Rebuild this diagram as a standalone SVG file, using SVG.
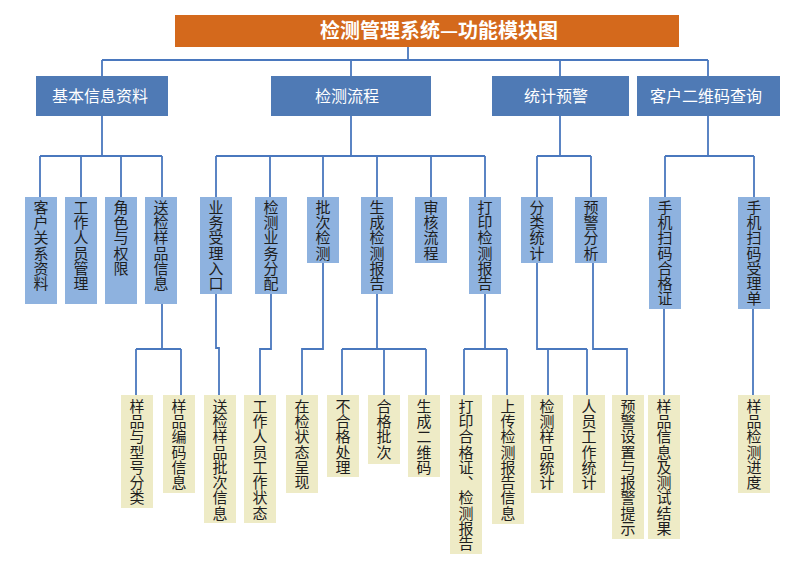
<svg xmlns="http://www.w3.org/2000/svg" width="800" height="571" viewBox="0 0 800 571">
<style>
.title{fill:#D4691C}
.l1{fill:#4F7AB5}
.l2{fill:#8EB2DF}
.l3{fill:#EEEBC6}
.tt{font-family:"Noto Sans CJK SC","Liberation Sans",sans-serif;font-size:20px;font-weight:bold;fill:#fff;text-anchor:middle}
.t1{font-family:"Noto Sans CJK SC","Liberation Sans",sans-serif;font-size:16px;fill:#fff;text-anchor:middle}
.tv{font-family:"Noto Sans CJK SC","Liberation Sans",sans-serif;font-size:15px;fill:#1e1e1e;writing-mode:vertical-rl;text-anchor:start;letter-spacing:0.3px}
.conn path{fill:none;stroke:#4A78BE;stroke-width:1.8}
</style>
<rect width="800" height="571" fill="#fff"/>
<g class="conn" id="connectors">
<path d="M408 47V60M102 60H708M102 60V76M351 60V76M560 60V76M708 60V76"/>
<path d="M102 116V156M40 156H162M40 156V197M81 156V197M121 156V197M162 156V197"/>
<path d="M351 116V156M216 156H485M216 156V197M270 156V197M323 156V197M377 156V197M431 156V197M485 156V197"/>
<path d="M560 116V156M537 156H591M537 156V197M591 156V197"/>
<path d="M708 116V156M665 156H754M665 156V197M754 156V197"/>
<path d="M162 304V349M136 349H181M136 349V395M181 349V395"/>
<path d="M216 294V348H219V395"/>
<path d="M271 294V349H260V395"/>
<path d="M323 263V349H302V395"/>
<path d="M377 294V349M342 349H426M342 349V395M384 349V395M426 349V395"/>
<path d="M485 294V349M464 349H507M464 349V395M507 349V395"/>
<path d="M537 263V349H587M548 349V395M587 349V395"/>
<path d="M593 263V349H627V395"/>
<path d="M664 309V395"/>
<path d="M753 309V395"/>
</g>
<g id="n-title"><rect class="title" x="175" y="15" width="504" height="32"/><text class="tt" x="439" y="38">检测管理系统—功能模块图</text></g>
<g id="n-jbxx"><rect class="l1" x="36" y="76" width="132" height="40"/><text class="t1" x="100" y="102">基本信息资料</text></g>
<g id="n-jclc"><rect class="l1" x="271" y="76" width="160" height="40"/><text class="t1" x="347" y="102">检测流程</text></g>
<g id="n-tjyj"><rect class="l1" x="492" y="76" width="137" height="40"/><text class="t1" x="556" y="102">统计预警</text></g>
<g id="n-khewm"><rect class="l1" x="637" y="76" width="143" height="40"/><text class="t1" x="706" y="102">客户二维码查询</text></g>

<g id="n-khgx"><rect class="l2" x="25" y="197" width="32" height="107"/><text class="tv" x="41" y="199.5">客户关系资料</text></g>
<g id="n-gzry"><rect class="l2" x="65" y="197" width="32" height="107"/><text class="tv" x="81" y="199.5">工作人员管理</text></g>
<g id="n-jsqx"><rect class="l2" x="105" y="197" width="32" height="107"/><text class="tv" x="121" y="199.5">角色与权限</text></g>
<g id="n-sjyp"><rect class="l2" x="145" y="197" width="32" height="107"/><text class="tv" x="161" y="199.5">送检样品信息</text></g>
<g id="n-ywsl"><rect class="l2" x="200" y="197" width="32" height="97"/><text class="tv" x="216" y="199.5">业务受理入口</text></g>
<g id="n-jcyw"><rect class="l2" x="255" y="197" width="32" height="97"/><text class="tv" x="271" y="199.5">检测业务分配</text></g>
<g id="n-pcjc"><rect class="l2" x="307" y="197" width="32" height="66"/><text class="tv" x="323" y="199.5">批次检测</text></g>
<g id="n-scbg"><rect class="l2" x="361" y="197" width="32" height="97"/><text class="tv" x="377" y="199.5">生成检测报告</text></g>
<g id="n-shlc"><rect class="l2" x="415" y="197" width="32" height="66"/><text class="tv" x="431" y="199.5">审核流程</text></g>
<g id="n-dybg"><rect class="l2" x="469" y="197" width="32" height="97"/><text class="tv" x="485" y="199.5">打印检测报告</text></g>
<g id="n-fltj"><rect class="l2" x="521" y="197" width="32" height="66"/><text class="tv" x="537" y="199.5">分类统计</text></g>
<g id="n-yjfx"><rect class="l2" x="575" y="197" width="32" height="66"/><text class="tv" x="591" y="199.5">预警分析</text></g>
<g id="n-smhgz"><rect class="l2" x="649" y="197" width="32" height="112"/><text class="tv" x="665" y="199.5">手机扫码合格证</text></g>
<g id="n-smsld"><rect class="l2" x="738" y="197" width="32" height="112"/><text class="tv" x="754" y="199.5">手机扫码受理单</text></g>

<g id="n-ypxh"><rect class="l3" x="121" y="395" width="32" height="113"/><text class="tv" x="137" y="398.5">样品与型号分类</text></g>
<g id="n-ypbm"><rect class="l3" x="163" y="395" width="32" height="98"/><text class="tv" x="179" y="398.5">样品编码信息</text></g>
<g id="n-sjpc"><rect class="l3" x="204" y="395" width="32" height="128"/><text class="tv" x="220" y="398.5">送检样品批次信息</text></g>
<g id="n-gzzt"><rect class="l3" x="244" y="395" width="32" height="128"/><text class="tv" x="260" y="398.5">工作人员工作状态</text></g>
<g id="n-zjzt"><rect class="l3" x="286" y="395" width="32" height="98"/><text class="tv" x="302" y="398.5">在检状态呈现</text></g>
<g id="n-bhg"><rect class="l3" x="327" y="395" width="32" height="82"/><text class="tv" x="343" y="398.5">不合格处理</text></g>
<g id="n-hgpc"><rect class="l3" x="368" y="395" width="32" height="69"/><text class="tv" x="384" y="398.5">合格批次</text></g>
<g id="n-scewm"><rect class="l3" x="408" y="395" width="32" height="82"/><text class="tv" x="424" y="398.5">生成二维码</text></g>
<g id="n-dyhgz"><rect class="l3" x="450" y="395" width="32" height="159"/><text class="tv" x="466" y="398.5">打印合格证、检测报告</text></g>
<g id="n-scjc"><rect class="l3" x="492" y="395" width="32" height="129"/><text class="tv" x="508" y="398.5">上传检测报告信息</text></g>
<g id="n-jcyptj"><rect class="l3" x="531" y="395" width="32" height="98"/><text class="tv" x="547" y="398.5">检测样品统计</text></g>
<g id="n-rygz"><rect class="l3" x="573" y="395" width="32" height="98"/><text class="tv" x="589" y="398.5">人员工作统计</text></g>
<g id="n-yjsz"><rect class="l3" x="612" y="395" width="32" height="144"/><text class="tv" x="628" y="398.5">预警设置与报警提示</text></g>
<g id="n-ypxx"><rect class="l3" x="648" y="395" width="32" height="144"/><text class="tv" x="664" y="398.5">样品信息及测试结果</text></g>
<g id="n-jcjd"><rect class="l3" x="738" y="395" width="32" height="98"/><text class="tv" x="754" y="398.5">样品检测进度</text></g>
</svg>
